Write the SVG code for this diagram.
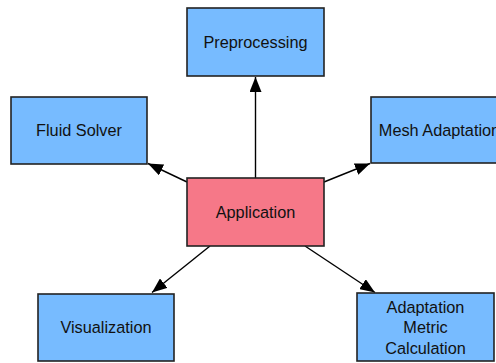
<svg xmlns="http://www.w3.org/2000/svg" width="496" height="363" viewBox="0 0 496 363">
<style>
.box{fill:#77bbff;stroke:#222;stroke-width:1.6}
.app{fill:#f67888;stroke:#222;stroke-width:1.6}
text{font-family:"Liberation Sans",Arial,sans-serif;font-size:16.3px;fill:#111;text-anchor:middle}
.edge{stroke:#000;stroke-width:1.4;fill:none;marker-end:url(#ah)}
</style>
<defs>
<marker id="ah" markerWidth="15" markerHeight="12" refX="15" refY="6" orient="auto" markerUnits="userSpaceOnUse">
<path d="M0,0 L15,6 L0,12 Z" fill="#000"/>
</marker>
</defs>
<rect width="496" height="363" fill="#fff"/>
<g id="connectors">
<line class="edge" x1="255.5" y1="178" x2="255.5" y2="77"/>
<line class="edge" x1="187" y1="182" x2="148" y2="163.5"/>
<line class="edge" x1="324" y1="182" x2="370" y2="163.5"/>
<line class="edge" x1="210" y1="246" x2="152" y2="292.5"/>
<line class="edge" x1="305" y1="246" x2="375" y2="292.5"/>
</g>
<g id="preprocessing"><rect class="box" x="187" y="8" width="137" height="68"/><text x="255.5" y="48">Preprocessing</text></g>
<g id="fluid-solver"><rect class="box" x="11" y="97" width="136" height="67"/><text x="79" y="136">Fluid Solver</text></g>
<g id="mesh-adaptation"><rect class="box" x="371" y="97" width="137" height="66"/><text x="439.5" y="136">Mesh Adaptation</text></g>
<g id="application"><rect class="app" x="187" y="178" width="137" height="68"/><text x="255.5" y="218">Application</text></g>
<g id="visualization"><rect class="box" x="38" y="294" width="136" height="67"/><text x="106" y="333">Visualization</text></g>
<g id="adaptation-metric"><rect class="box" x="357" y="293" width="137" height="68"/><text x="425.5" y="313">Adaptation</text><text x="425.5" y="333">Metric</text><text x="425.5" y="354">Calculation</text></g>
</svg>
